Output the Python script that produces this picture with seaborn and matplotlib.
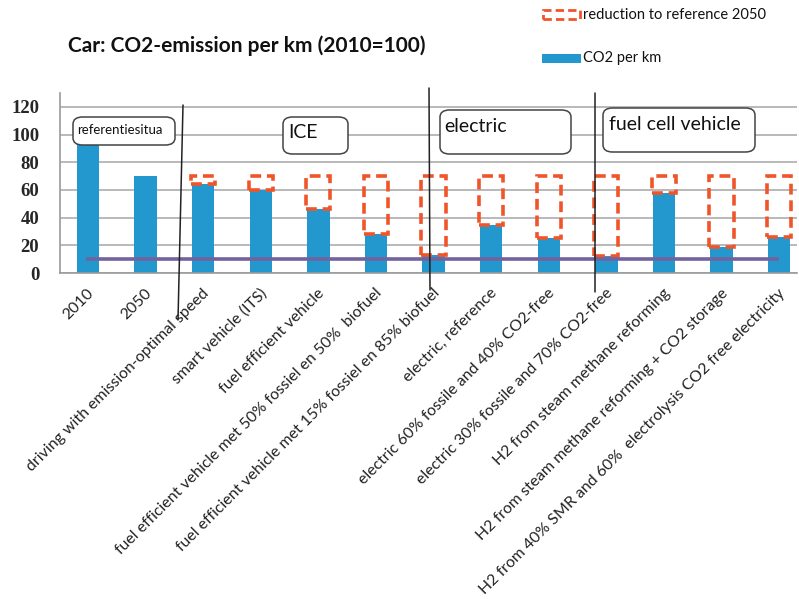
import matplotlib
matplotlib.use("Agg")
import matplotlib.pyplot as plt
from matplotlib.patches import FancyBboxPatch, Rectangle
from matplotlib.lines import Line2D
import matplotlib.transforms as mtransforms
import seaborn as sns
import pandas as pd

categories = [
    "2010", "2050", "driving with emission-optimal speed", "smart vehicle (ITS)",
    "fuel efficient vehicle", "fuel efficient vehicle met 50% fossiel en 50%  biofuel",
    "fuel efficient vehicle met 15% fossiel en 85% biofuel", "electric, reference",
    "electric 60% fossile and 40% CO2-free", "electric 30% fossile and 70% CO2-free",
    "H2 from steam methane reforming", "H2 from steam methane reforming + CO2 storage",
    "H2 from 40% SMR and 60%  electrolysis CO2 free electricity",
]
co2_per_km = [100, 70, 64, 60, 46, 28, 13, 35, 25, 12.5, 58, 19, 26]
reference_2050 = 70
target_level = 10
yticks = [0, 20, 40, 60, 80, 100, 120]
group_labels = ["referentiesitua", "ICE", "electric", "fuel cell vehicle"]

BLUE = "#2398CF"
ORANGE = "#F0552A"
PURPLE = "#72629E"

sns.set_style("white")
plt.rcParams["font.family"] = ["Lato", "DejaVu Sans"]

W, H = 799, 599
fig = plt.figure(figsize=(W / 100, H / 100), dpi=100)

def fx(x):
    return x / W

def fy(y):
    return 1 - y / H

ax = fig.add_axes([fx(60), fy(273), fx(797) - fx(60), fy(93) - fy(273)])

df = pd.DataFrame({"cat": categories, "val": co2_per_km})
sns.barplot(data=df, x="cat", y="val", color=BLUE, width=0.39, saturation=1,
            edgecolor="none", ax=ax, zorder=2)

# reduction boxes (from bar top to 2050 reference), not for 2010/2050
idx = list(range(2, len(categories)))
bottoms = [co2_per_km[i] for i in idx]
heights = [reference_2050 - co2_per_km[i] for i in idx]
ax.bar(idx, heights, bottom=bottoms, width=0.42, fill=False, edgecolor=ORANGE,
       linewidth=2.6, linestyle=(0, (3, 1.6)), zorder=3)

# target line
ax.hlines(target_level, -0.03, len(categories) - 1, color=PURPLE, linewidth=2.6, zorder=4)

ax.set_xlim(-0.486, 12.31)
ax.set_ylim(0, 130)
ax.set_yticks(yticks)
ax.set_yticklabels([str(t) for t in yticks], fontfamily="Liberation Serif",
                   fontweight="bold", fontsize=13.5)
ax.tick_params(axis="y", length=0, pad=15)
ax.tick_params(axis="x", length=0, pad=0)
ax.set_xticks(range(len(categories)))
ax.set_xticklabels(categories, rotation=45, ha="right", va="center",
                   rotation_mode="anchor", fontsize=11.4, color="#222222")
offset = mtransforms.ScaledTranslation(4 / 100, -18 / 100, fig.dpi_scale_trans)
for lab in ax.get_xticklabels():
    lab.set_transform(lab.get_transform() + offset)
ax.set_xlabel("")
ax.set_ylabel("")
ax.yaxis.grid(True, color="#A6A6A6", linewidth=1.1, zorder=0)
ax.set_axisbelow(True)
for s in ["top", "right"]:
    ax.spines[s].set_visible(False)
for s in ["left", "bottom"]:
    ax.spines[s].set_color("#9A9A9A")
    ax.spines[s].set_linewidth(1.2)

# title
fig.text(fx(68), fy(46), "Car: CO2-emission per km (2010=100)", fontsize=15,
         fontweight="bold", va="center", ha="left", color="#111111")

# legend
fig.patches.append(Rectangle((fx(543), fy(19)), fx(37), fy(10) - fy(19), fill=False,
                             edgecolor=ORANGE, linewidth=2, linestyle=(0, (3, 1.5)),
                             transform=fig.transFigure, figure=fig))
fig.text(fx(583), fy(15), "reduction to reference 2050", fontsize=10.5, va="center",
         ha="left", color="#111111")
fig.patches.append(Rectangle((fx(542), fy(63)), fx(39), fy(54) - fy(63), facecolor=BLUE,
                             edgecolor="none", transform=fig.transFigure, figure=fig))
fig.text(fx(583), fy(58), "CO2 per km", fontsize=10.5, va="center", ha="left",
         color="#111111")

# group boxes
def gbox(x0, y0, x1, y1, label, tx, ty, fs):
    p = FancyBboxPatch((fx(x0), fy(y1)), fx(x1) - fx(x0), fy(y0) - fy(y1),
                       boxstyle="round,pad=0,rounding_size=0.012",
                       facecolor="white", edgecolor="#444444", linewidth=1.1,
                       transform=fig.transFigure, figure=fig, zorder=5)
    fig.patches.append(p)
    fig.text(fx(tx), fy(ty), label, fontsize=fs, va="center", ha="left",
             color="#111111", zorder=6)

gbox(73, 117, 175, 145, group_labels[0], 77, 130, 9.5)
gbox(283, 117, 348, 154, group_labels[1], 288, 133, 14)
gbox(440, 110, 571, 154, group_labels[2], 444, 127, 14)
gbox(603, 108, 755, 152, group_labels[3], 609, 124, 14)

# separator lines
for (x0, y0, x1, y1) in [(183, 105, 178, 320), (429, 88, 430, 290), (595, 93, 595, 292)]:
    fig.lines.append(Line2D([fx(x0), fx(x1)], [fy(y0), fy(y1)], color="#222222",
                            linewidth=1.1, transform=fig.transFigure, figure=fig, zorder=7))

fig.savefig("out.png", dpi=100)
